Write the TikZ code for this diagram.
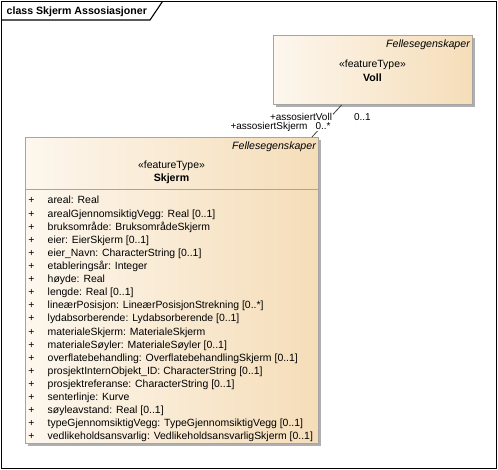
\documentclass[tikz,border=0pt]{standalone}
\usepackage{fontspec}
\setmainfont{Liberation Sans}
\usetikzlibrary{shadows}
\definecolor{boxL}{RGB}{253,247,238}
\definecolor{boxR}{RGB}{245,221,184}
\definecolor{boxB}{RGB}{165,165,165}
\definecolor{shadowC}{RGB}{175,175,175}
\begin{document}
\begin{tikzpicture}[x=1pt,y=-1pt,
  umlbox/.style={draw=boxB, line width=0.9pt, left color=boxL, right color=boxR,
    inner sep=0pt, anchor=north west,
    drop shadow={shadow xshift=3pt, shadow yshift=-3pt, fill=shadowC, opacity=1}},
  txt/.style={font=\fontsize{10.45}{12}\selectfont, inner sep=0pt},
  lbl/.style={font=\fontsize{10}{12}\selectfont, inner sep=0.8pt, fill=white},
  conn/.style={draw=black!75, line width=0.8pt}
]
\useasboundingbox (0,0) rectangle (498,470);
% frame
\draw[line width=1.1pt] (1.5,1.5) rectangle (496.5,468.5);
\draw[line width=1.1pt] (1.5,20) -- (150,20) -- (162.5,1.5);
\node[txt, font=\fontsize{10.6}{12}\selectfont\bfseries, anchor=base west] (title) at (6.5,15) {class Skjerm Assosiasjoner};

% Voll
\node[umlbox, minimum width=199pt, minimum height=69pt] (voll) at (273,35) {};
\node[txt, font=\fontsize{10.6}{12}\selectfont\itshape, anchor=base east] (vollpkg) at (470,48) {Fellesegenskaper};
\node[txt, anchor=base] (vollst) at (372.5,68) {«featureType»};
\node[txt, font=\fontsize{10.6}{12}\selectfont\bfseries, anchor=base] (vollname) at (372.5,81.5) {Voll};

% Skjerm
\node[umlbox, minimum width=293pt, minimum height=306pt] (skjerm) at (25,137) {};
\node[txt, font=\fontsize{10.6}{12}\selectfont\itshape, anchor=base east] (skjpkg) at (316,150) {Fellesegenskaper};
\node[txt, anchor=base] (skjst) at (171.5,169) {«featureType»};
\node[txt, font=\fontsize{10.6}{12}\selectfont\bfseries, anchor=base] (skjname) at (171.5,182) {Skjerm};
\draw[boxB, line width=0.9pt] ([yshift=-52.3pt]skjerm.north west) -- ([yshift=-52.3pt]skjerm.north east);

\foreach \t [count=\i from 0] in {
  {areal: Real},
  {arealGjennomsiktigVegg: Real [0..1]},
  {bruksområde: BruksområdeSkjerm},
  {eier: EierSkjerm [0..1]},
  {eier\_Navn: CharacterString [0..1]},
  {etableringsår: Integer},
  {høyde: Real},
  {lengde: Real [0..1]},
  {lineærPosisjon: LineærPosisjonStrekning [0..*]},
  {lydabsorberende: Lydabsorberende [0..1]},
  {materialeSkjerm: MaterialeSkjerm},
  {materialeSøyler: MaterialeSøyler [0..1]},
  {overflatebehandling: OverflatebehandlingSkjerm [0..1]},
  {prosjektInternObjekt\_ID: CharacterString [0..1]},
  {prosjektreferanse: CharacterString [0..1]},
  {senterlinje: Kurve},
  {søyleavstand: Real [0..1]},
  {typeGjennomsiktigVegg: TypeGjennomsiktigVegg [0..1]},
  {vedlikeholdsansvarlig: VedlikeholdsansvarligSkjerm [0..1]}} {
  \node[txt, anchor=base] (v\i) at (31.5,{204+13.1*\i}) {+};
  \node[txt, anchor=base west] (a\i) at (47.5,{204+13.1*\i}) {\t};
}

% association
\coordinate (ev) at ([xshift=68.7pt]voll.south west);
\coordinate (es) at ([xshift=287pt]skjerm.north west);
\draw[conn] (ev) -- (es);
\node[lbl, anchor=base east] (rv) at (333,121) {+assosiertVoll};
\node[lbl, anchor=base west] (mv) at (353,121) {0..1};
\node[lbl, anchor=base east] (rs) at (308.5,130) {+assosiertSkjerm};
\node[lbl, anchor=base west] (ms) at (314.5,130) {0..*};
\end{tikzpicture}
\end{document}
